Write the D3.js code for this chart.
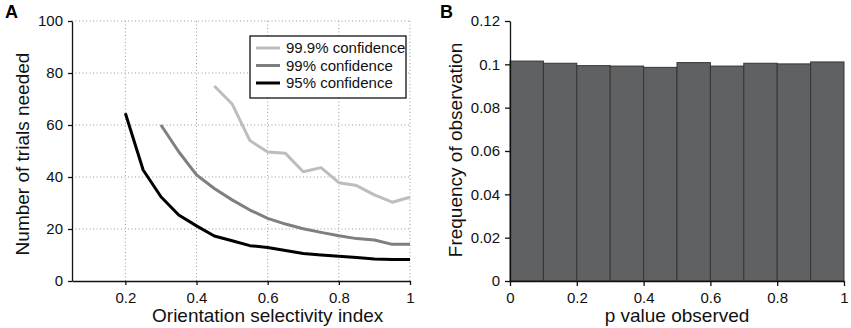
<!DOCTYPE html>
<html>
<head>
<meta charset="utf-8">
<script src="https://cdn.jsdelivr.net/npm/d3@7"></script>
<style>
  body { margin: 0; background: #fff; }
  svg { font-family: "Liberation Sans", Arial, sans-serif; }
</style>
</head>
<body>
<div id="chart"></div>
<script>
// Panel A data: trials needed vs orientation selectivity index
const osiValues = [0.2, 0.25, 0.3, 0.35, 0.4, 0.45, 0.5, 0.55, 0.6, 0.65, 0.7, 0.75, 0.8, 0.85, 0.9, 0.95, 1.0];
const trials95 = [64.5, 42.7, 32.4, 25.4, 21.2, 17.3, 15.5, 13.6, 12.9, 11.7, 10.6, 10.0, 9.5, 9.0, 8.5, 8.3, 8.3];
const trials99 = [null, null, 60, 49.7, 40.8, 35.6, 31.2, 27.3, 24.1, 21.9, 20.1, 18.7, 17.4, 16.3, 15.8, 14.1, 14.1];
const trials999 = [null, null, null, null, null, 75, 68.1, 54, 49.6, 49.1, 42, 43.6, 37.8, 36.7, 33.1, 30.3, 32.2];
const seriesNames = ['99.9% confidence', '99% confidence', '95% confidence'];
const xTicksA = [0.2, 0.4, 0.6, 0.8, 1];
const yTicksA = [0, 20, 40, 60, 80, 100];

// Panel B data: histogram of observed p values
const binStarts = [0, 0.1, 0.2, 0.3, 0.4, 0.5, 0.6, 0.7, 0.8, 0.9];
const frequencies = [0.1015, 0.1005, 0.0994, 0.0992, 0.0986, 0.1008, 0.0992, 0.1005, 0.1002, 0.1011];
const xTicksB = [0, 0.2, 0.4, 0.6, 0.8, 1];
const yTicksB = [0, 0.02, 0.04, 0.06, 0.08, 0.1, 0.12];

const width = 851, height = 328;
const fmt = d3.format('~g');

const svg = d3.select('#chart').append('svg')
    .attr('width', width)
    .attr('height', height);

// ---------- Panel A ----------
const xA = d3.scaleLinear().domain([0.05, 1]).range([72, 410]);
const yA = d3.scaleLinear().domain([0, 100]).range([281, 21]);

const gA = svg.append('g');

// dotted grid
gA.append('g').selectAll('line.vg')
    .data(xTicksA)
    .enter().append('line')
    .attr('x1', d => xA(d)).attr('x2', d => xA(d))
    .attr('y1', yA(0)).attr('y2', yA(100))
    .attr('stroke', '#9a9a9a')
    .attr('stroke-width', 1)
    .attr('stroke-dasharray', '1,2.5');

gA.append('g').selectAll('line.hg')
    .data(yTicksA.filter(d => d > 0))
    .enter().append('line')
    .attr('x1', xA(0.05)).attr('x2', xA(1))
    .attr('y1', d => yA(d)).attr('y2', d => yA(d))
    .attr('stroke', '#9a9a9a')
    .attr('stroke-width', 1)
    .attr('stroke-dasharray', '1,2.5');

// axes
const xAxisA = gA.append('g')
    .attr('transform', `translate(0,${yA(0)})`)
    .call(d3.axisBottom(xA).tickValues(xTicksA).tickFormat(fmt).tickSize(4).tickSizeOuter(0).tickPadding(7));

const yAxisA = gA.append('g')
    .attr('transform', `translate(${xA(0.05)},0)`)
    .call(d3.axisLeft(yA).tickValues(yTicksA).tickSize(4).tickSizeOuter(0).tickPadding(5));

[xAxisA, yAxisA].forEach(ax => {
    ax.select('.domain').attr('stroke', '#111').attr('stroke-width', 1.3);
    ax.selectAll('.tick line').attr('stroke', '#111').attr('stroke-width', 1.3);
    ax.selectAll('.tick text').style('font-size', '15px').attr('fill', '#111');
});

// lines
const lineColors = ['#bdbdbd', '#7f7f7f', '#000000'];
const seriesA = [trials999, trials99, trials95];

const line = d3.line()
    .defined(d => d[1] != null)
    .x(d => xA(d[0]))
    .y(d => yA(d[1]));

seriesA.forEach((vals, i) => {
    gA.append('path')
        .datum(osiValues.map((x, j) => [x, vals[j]]))
        .attr('fill', 'none')
        .attr('stroke', lineColors[i])
        .attr('stroke-width', 3)
        .attr('stroke-linejoin', 'round')
        .attr('d', line);
});

// legend
const legend = gA.append('g').attr('transform', 'translate(250,36)');
legend.append('rect')
    .attr('width', 156)
    .attr('height', 62)
    .attr('fill', '#fff')
    .attr('stroke', '#111')
    .attr('stroke-width', 1.3);

const legendItems = legend.selectAll('.legend-item')
    .data(seriesNames)
    .enter().append('g')
    .attr('class', 'legend-item')
    .attr('transform', (d, i) => `translate(0, ${12 + i * 17.5})`);

legendItems.append('line')
    .attr('x1', 6).attr('x2', 30)
    .attr('stroke', (d, i) => lineColors[i])
    .attr('stroke-width', 3);

legendItems.append('text')
    .attr('x', 36)
    .attr('dy', '.35em')
    .style('font-size', '15px')
    .attr('fill', '#111')
    .text(d => d);

// axis titles
gA.append('text')
    .attr('x', xA(0.6))
    .attr('y', 322)
    .attr('text-anchor', 'middle')
    .style('font-size', '19px')
    .attr('fill', '#111')
    .text('Orientation selectivity index');

gA.append('text')
    .attr('transform', `translate(29,${yA(50) + 3}) rotate(-90)`)
    .attr('text-anchor', 'middle')
    .style('font-size', '19px')
    .attr('fill', '#111')
    .text('Number of trials needed');

svg.append('text')
    .attr('x', 5).attr('y', 18)
    .style('font-size', '18px')
    .style('font-weight', 'bold')
    .text('A');

// ---------- Panel B ----------
const xB = d3.scaleLinear().domain([0, 1]).range([510, 844]);
const yB = d3.scaleLinear().domain([0, 0.12]).range([281, 21]);

const gB = svg.append('g');

gB.append('g').selectAll('rect')
    .data(binStarts)
    .enter().append('rect')
    .attr('x', d => xB(d))
    .attr('y', (d, i) => yB(frequencies[i]))
    .attr('width', xB(0.1) - xB(0))
    .attr('height', (d, i) => yB(0) - yB(frequencies[i]))
    .attr('fill', '#606163')
    .attr('stroke', '#353535')
    .attr('stroke-width', 1);

const xAxisB = gB.append('g')
    .attr('transform', `translate(0,${yB(0)})`)
    .call(d3.axisBottom(xB).tickValues(xTicksB).tickFormat(fmt).tickSize(5).tickSizeOuter(0).tickPadding(6));

const yAxisB = gB.append('g')
    .attr('transform', `translate(${xB(0)},0)`)
    .call(d3.axisLeft(yB).tickValues(yTicksB).tickFormat(fmt).tickSize(5).tickSizeOuter(0).tickPadding(5));

[xAxisB, yAxisB].forEach(ax => {
    ax.select('.domain').attr('stroke', '#111').attr('stroke-width', 1.3);
    ax.selectAll('.tick line').attr('stroke', '#111').attr('stroke-width', 1.3);
    ax.selectAll('.tick text').style('font-size', '15px').attr('fill', '#111');
});

gB.append('text')
    .attr('x', xB(0.5))
    .attr('y', 322)
    .attr('text-anchor', 'middle')
    .style('font-size', '19px')
    .attr('fill', '#111')
    .text('p value observed');

gB.append('text')
    .attr('transform', `translate(462,${yB(0.06) - 1}) rotate(-90)`)
    .attr('text-anchor', 'middle')
    .style('font-size', '19px')
    .attr('fill', '#111')
    .text('Frequency of observation');

svg.append('text')
    .attr('x', 440).attr('y', 18)
    .style('font-size', '18px')
    .style('font-weight', 'bold')
    .text('B');
</script>
</body>
</html>
